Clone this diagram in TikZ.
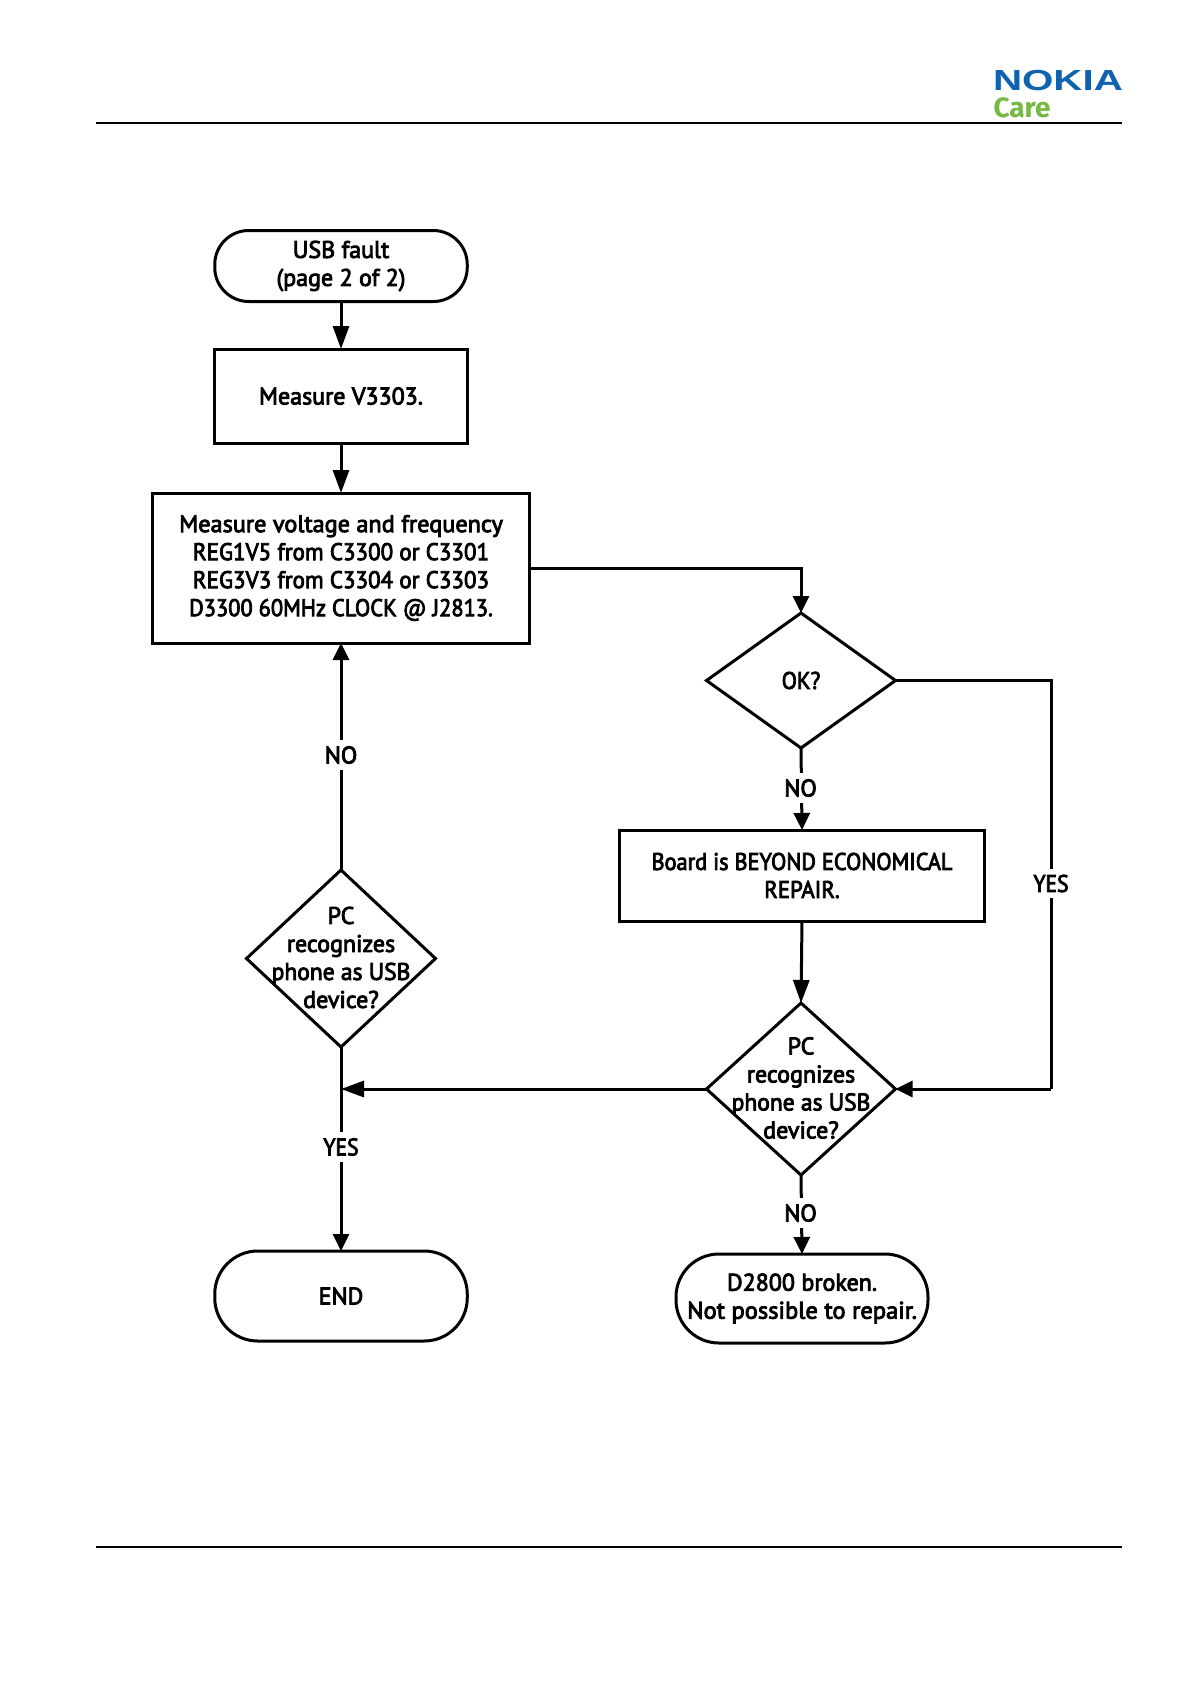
\documentclass[tikz,border=0pt]{standalone}
\usepackage{graphicx}
\usepackage{fontspec}
\setmainfont[FakeBold=3.5]{PT Sans}
\newfontfamily\logofont{Liberation Sans}
\newfontfamily\carefont{Fira Sans}
\usetikzlibrary{arrows.meta,shapes.geometric}
\definecolor{nokiablue}{HTML}{0F62AC}
\definecolor{caregreen}{HTML}{76B843}
\newcommand{\narrowline}[2]{\scalebox{#1}[1]{#2}}
\tikzset{
  x=1pt,y=-1pt,
  every node/.style={font=\fontsize{24}{28}\selectfont,align=center,inner sep=0pt,outer sep=0pt},
  shape line/.style={draw=black,line width=3pt},
  boxnode/.style={shape line,rectangle,fill=white},
  termnode/.style={shape line,rectangle,fill=white},
  decision/.style={shape line,diamond,shape aspect=1,fill=white},
  conn/.style={line width=3pt,-{Triangle[length=23pt,width=16pt]}},
  shortconn/.style={line width=3pt,-{Triangle[length=17pt,width=16pt]}},
  plainconn/.style={line width=3pt},
  edgelabel/.style={fill=white,inner xsep=2pt,inner ysep=6pt},
  rule/.style={line width=2.2pt}
}
\begin{document}
\begin{tikzpicture}
\useasboundingbox (0,0) rectangle (1191,1684);
\fill[white] (0,0) rectangle (1191,1684);
\coordinate (r1a) at (96,122.7);
\coordinate (r1b) at (1122,122.7);
\coordinate (r2a) at (96,1547);
\coordinate (r2b) at (1122,1547);
\draw[rule] (r1a) -- (r1b);
\draw[rule] (r2a) -- (r2b);
\node[anchor=west,text=nokiablue,font=\logofont\bfseries\fontsize{29}{29}\selectfont,xscale=1.39] (nokia) at (993,80.5) {NOKIA};
\node[anchor=west,text=caregreen,font=\carefont\bfseries\fontsize{28}{28}\selectfont] (care) at (993.5,108) {Care};

\node[termnode,rounded corners=34pt,minimum width=252.5pt,minimum height=71pt] (start) at (341,266) {USB fault\\(page 2 of 2)};
\node[boxnode,minimum width=252.5pt,minimum height=94pt] (v3303) at (341,396) {Measure V3303.};
\node[boxnode,minimum width=377pt,minimum height=150pt] (meas) at (341,568) {\narrowline{1.01}{Measure voltage and frequency}\\\narrowline{.96}{REG1V5 from C3300 or C3301}\\\narrowline{.96}{REG3V3 from C3304 or C3303}\\\narrowline{.935}{D3300 60MHz CLOCK @ J2813.}};
\node[decision,minimum width=189pt,minimum height=135pt] (ok) at (801,680.5) {};
\node[anchor=center] (oktext) at (ok.center) {\narrowline{.93}{OK?}};
\node[boxnode,minimum width=365pt,minimum height=91pt] (beyond) at (802,875.5) {\narrowline{.93}{Board is BEYOND ECONOMICAL}\\\narrowline{.95}{REPAIR.}};
\node[decision,minimum width=189pt,minimum height=172pt] (pc2) at (801,1089) {};
\node (pc2text) at ([yshift=1pt]pc2.center) {PC\\recognizes\\\narrowline{.98}{phone as USB}\\device?};
\node[decision,minimum width=189pt,minimum height=177pt] (pc1) at (341,958.5) {};
\node (pc1text) at ([yshift=1pt]pc1.center) {PC\\recognizes\\\narrowline{.98}{phone as USB}\\device?};
\node[termnode,rounded corners=43pt,minimum width=252.5pt,minimum height=90pt] (endn) at (341,1296) {END};
\node[termnode,rounded corners=43pt,minimum width=252pt,minimum height=89pt] (broken) at (802,1298.5) {D2800 broken.\\\narrowline{1.02}{Not possible to repair.}};

\coordinate (c1) at (801,568);
\coordinate (c2) at (1051,680.5);
\coordinate (c3) at (1051,1089);
\coordinate (junc) at (341,1089);

\draw[conn] (start) -- (v3303);
\draw[conn] (v3303) -- (meas);
\draw[shortconn] (meas.east) -- (c1) -- (ok.north);
\draw[plainconn] (ok.east) -- (c2) -- (c3);
\draw[shortconn] (c3) -- (pc2.east);
\draw[shortconn] (ok.south) -- (beyond.north);
\draw[conn] (beyond.south) -- (pc2.north);
\draw[conn] (pc2.west) -- (junc);
\draw[shortconn] (pc1.south) -- (endn.north);
\draw[shortconn] (pc1.north) -- (meas.south);
\draw[shortconn] (pc2.south) -- (broken.north);

\node[edgelabel] (l1) at (341,755) {NO};
\node[edgelabel] (l2) at (800.5,788) {NO};
\node[edgelabel] (l3) at (1051,883.5) {\narrowline{.9}{YES}};
\node[edgelabel] (l4) at (341,1147) {\narrowline{.9}{YES}};
\node[edgelabel] (l5) at (800.5,1213) {NO};
\end{tikzpicture}
\end{document}
